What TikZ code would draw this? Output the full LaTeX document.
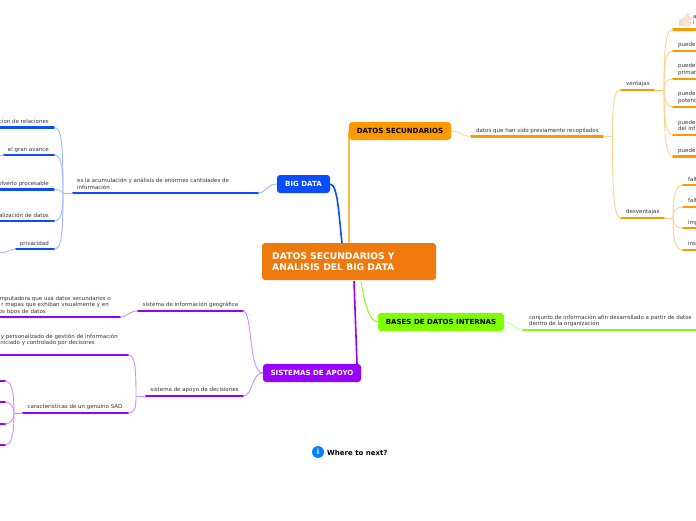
\documentclass[tikz,border=0pt]{standalone}
\usepackage{fontspec}
\setmainfont{DejaVu Sans}
\definecolor{cOr}{HTML}{EE7A0E}
\definecolor{cYe}{HTML}{FF9900}
\definecolor{cBl}{HTML}{0A4DFF}
\definecolor{cGr}{HTML}{80FF00}
\definecolor{cPu}{HTML}{9900FF}
\definecolor{tx}{HTML}{333333}
\tikzset{
  mbox/.style={rounded corners=3pt,font=\bfseries\fontsize{7.05}{8}\selectfont,inner sep=0pt,anchor=center},
  lab/.style={font=\fontsize{5.5}{6.7}\selectfont,text=tx,inner sep=0pt,align=left,yshift=-.5pt},
  topicbar/.style={line width=2.4pt,line cap=round},
  conn/.style={line width=.9pt},
  trunk/.style={line width=1.6pt}
}
\newcommand{\tbar}[5]{\coordinate (#1l) at (#2,#4);\coordinate (#1r) at (#3,#4);\draw[topicbar,#5] (#1l) -- (#1r);}
\newcommand{\cn}[5]{\draw[conn,#5] (#1) .. controls +#3 and +#4 .. (#2);}
\begin{document}
\begin{tikzpicture}[x=1pt,y=-1pt]
\useasboundingbox (0,0) rectangle (696,520);
\clip (0,0) rectangle (696,520);
% anchors on the boxes
\coordinate (cb) at (342,243);\coordinate (cy) at (349,243);\coordinate (cg) at (361,281);\coordinate (cp) at (354,281);
\coordinate (bde) at (330,184);\coordinate (bdw) at (277,184);
\coordinate (dsw) at (349,131);\coordinate (dse) at (451,131);
\coordinate (biw) at (378,322);\coordinate (bie) at (504,322);
\coordinate (sae) at (357,364);\coordinate (saw) at (263,373);
\draw[trunk,cBl] (bde) .. controls +(8,0) and +(-3,-25) .. (cb);
\draw[trunk,cYe!70] (dsw) -- (cy);
\draw[conn,cGr] (biw) .. controls +(-9,0) and +(3,20) .. (cg);
\draw[trunk,cPu] (sae) -- (cp);
% boxes
\node[rounded corners=3pt,fill=cOr,minimum width=174pt,minimum height=37pt,inner sep=0pt] (central) at (349,261.5) {};
\node[anchor=west,inner sep=0pt,text=white,font=\bfseries\fontsize{9.2}{11}\selectfont,align=left] (centralt) at (272,262) {DATOS SECUNDARIOS Y\\ANALISIS DEL BIG DATA};
\node[mbox,fill=cBl,text=white,minimum width=53pt,minimum height=18pt] (bd) at (303.5,184) {BIG DATA};
\node[mbox,fill=cYe,text=black,minimum width=102pt,minimum height=18pt] (ds) at (400,131) {DATOS SECUNDARIOS};
\node[mbox,fill=cGr,text=black,minimum width=126pt,minimum height=18pt] (bi) at (441,322) {BASES DE DATOS INTERNAS};
\node[mbox,fill=cPu,text=white,minimum width=98pt,minimum height=18pt] (sa) at (312,373) {SISTEMAS DE APOYO};
% BIG DATA branch
\tbar{b0}{73}{258}{193}{cBl}
\cn{bdw}{b0r}{(-10,0)}{(8,0)}{cBl!40}
\coordinate (bj) at (63,193);
\draw[conn,cBl!40] (b0l) -- (bj);
\tbar{b1}{-5}{54}{127.5}{cBl}
\tbar{b2}{4}{54}{155}{cBl}
\tbar{b3}{-5}{54}{189.5}{cBl}
\tbar{b4}{-5}{54}{221}{cBl}
\tbar{b5}{16}{54}{249}{cBl}
\cn{bj}{b1r}{(0,-55)}{(7,0)}{cBl!40}
\cn{bj}{b2r}{(0,-28)}{(7,0)}{cBl!40}
\cn{bj}{b3r}{(-3,-3)}{(4,0)}{cBl!40}
\cn{bj}{b4r}{(0,20)}{(7,0)}{cBl!40}
\cn{bj}{b5r}{(0,45)}{(7,0)}{cBl!40}
\coordinate (b2s) at (0,155);\coordinate (b5s) at (0,253);
\draw[conn,cBl!40] (b2s) -- (b2l);
\cn{b5l}{b5s}{(-5,0)}{(4,0)}{cBl!40}
\node[lab,anchor=west] (t0) at (77,183) {es la acumulación y análisis de enormes cantidades de\\información};
\node[lab,anchor=east] (t1) at (49,121) {cion de relaciones};
\node[lab,anchor=east] (t2) at (49,149) {el gran avance};
\node[lab,anchor=east] (t3) at (49,183) {olverlo procesable};
\node[lab,anchor=east] (t4) at (49,215) {alización de datos};
\node[lab,anchor=east] (t5) at (49,243) {privacidad};
% SISTEMAS branch
\tbar{p1}{138}{243}{311}{cPu}
\tbar{p2}{146}{243}{396}{cPu}
\tbar{p3}{-5}{120}{317}{cPu}
\tbar{p4}{-5}{128}{355}{cPu}
\tbar{p5}{23}{128}{413}{cPu}
\cn{saw}{p1r}{(-15,0)}{(10,0)}{cPu!45}
\cn{saw}{p2r}{(-12,0)}{(10,0)}{cPu!45}
\cn{p1l}{p3r}{(-10,0)}{(8,0)}{cPu!45}
\coordinate (pj) at (136,396);
\draw[conn,cPu!45] (p2l) -- (pj);
\cn{pj}{p4r}{(0,-30)}{(7,0)}{cPu!45}
\cn{pj}{p5r}{(0,12)}{(7,0)}{cPu!45}
\coordinate (qj) at (14,413);
\draw[conn,cPu!45] (p5l) -- (qj);
\tbar{q1}{-5}{5}{381}{cPu}
\tbar{q2}{-5}{5}{402}{cPu}
\tbar{q3}{-5}{5}{424}{cPu}
\tbar{q4}{-5}{5}{445}{cPu}
\cn{qj}{q1r}{(0,-24)}{(6,0)}{cPu!45}
\cn{qj}{q2r}{(0,-7)}{(5,0)}{cPu!45}
\cn{qj}{q3r}{(0,7)}{(5,0)}{cPu!45}
\cn{qj}{q4r}{(0,24)}{(6,0)}{cPu!45}
\node[lab,anchor=center] (t6) at (190.5,304) {sistema de información geográfica};
\node[lab,anchor=center] (t7) at (194.5,389) {sistema de apoyo de decisiones};
\node[lab,anchor=center] (t8) at (75,406) {características de un genuino SAD};
\node[lab,anchor=east] (t9) at (111,298) {mputadora que usa datos secundarios o};
\node[lab,anchor=east] (t10) at (109,304.5) {r mapas que exhiban visualmente y en};
\node[lab,anchor=east] (t11) at (46,311) {os tipos de datos};
\node[lab,anchor=east] (t12) at (118,336) {y personalizado de gestión de información};
\node[lab,anchor=east] (t13) at (95,342) {niciado y controlado por decisores};
% DATOS SECUNDARIOS branch
\tbar{y0}{471}{603}{136.5}{cYe}
\cn{dse}{y0l}{(10,0)}{(-9,0)}{cYe!40}
\coordinate (yj) at (612.5,136.5);
\draw[conn,cYe!40] (y0r) -- (yj);
\tbar{y1}{621}{654}{90}{cYe}
\tbar{y2}{621}{664}{218}{cYe}
\cn{yj}{y1l}{(0,-35)}{(-7,0)}{cYe!45}
\cn{yj}{y2l}{(0,60)}{(-7,0)}{cYe!45}
\coordinate (vj) at (664,90);\coordinate (dj) at (673,218);
\draw[conn,cYe!70] (y1r) -- (vj);
\draw[conn,cYe!45] (y2r) -- (dj);
\tbar{v1}{673}{700}{29.5}{cYe}
\tbar{v2}{673}{700}{51}{cYe}
\tbar{v3}{673}{700}{79}{cYe}
\tbar{v4}{673}{700}{107}{cYe}
\tbar{v5}{673}{700}{135}{cYe}
\tbar{v6}{673}{700}{156.5}{cYe}
\cn{vj}{v1l}{(0,-45)}{(-7,0)}{cYe!45}
\cn{vj}{v2l}{(0,-28)}{(-7,0)}{cYe!45}
\cn{vj}{v3l}{(0,-8)}{(-6,0)}{cYe!45}
\cn{vj}{v4l}{(0,10)}{(-6,0)}{cYe!45}
\cn{vj}{v5l}{(0,30)}{(-7,0)}{cYe!45}
\cn{vj}{v6l}{(0,48)}{(-7,0)}{cYe!45}
\tbar{d1}{683}{700}{185}{cYe}
\tbar{d2}{683}{700}{207}{cYe}
\tbar{d3}{683}{700}{228}{cYe}
\tbar{d4}{683}{700}{250}{cYe}
\cn{dj}{d1l}{(0,-24)}{(-7,0)}{cYe!45}
\cn{dj}{d2l}{(0,-8)}{(-6,0)}{cYe!45}
\cn{dj}{d3l}{(0,8)}{(-6,0)}{cYe!45}
\cn{dj}{d4l}{(0,24)}{(-7,0)}{cYe!45}
\node[lab,anchor=west] (t14) at (476,130) {datos que han sido previamente recopilados};
\node[lab,anchor=west] (t15) at (626,83) {ventajas};
\node[lab,anchor=west] (t16) at (626,211) {desventajas};
\node[lab,anchor=west] (u1) at (693,19.5) {a\\i};
\node[lab,anchor=west] (u2) at (678,44) {puede};
\node[lab,anchor=west] (u3) at (678,69) {puede\\primar};
\node[lab,anchor=west] (u4) at (678,97) {puede\\potenc};
\node[lab,anchor=west] (u5) at (678,125) {puede\\del inf};
\node[lab,anchor=west] (u6) at (678,150) {puede};
\node[lab,anchor=west] (u7) at (688,179) {falt};
\node[lab,anchor=west] (u8) at (688,200) {falt};
\node[lab,anchor=west] (u9) at (688,222) {imp};
\node[lab,anchor=west] (u10) at (688,243) {ins};
% thumbs-up icon
\fill[black!12] (679,19) rectangle (683,26);
\fill[red!25!orange!18!white,draw=black!15,line width=.3pt] (682,19) -- (686,16) -- (687,13) -- (689,13) -- (689,17) -- (691,18) -- (691,24) -- (689,26) -- (683,26) -- cycle;
% BASES branch
\tbar{g0}{523}{700}{330}{cGr}
\cn{bie}{g0l}{(10,0)}{(-9,0)}{cGr!45}
\node[lab,anchor=west] (t17) at (529,320.5) {conjunto de información afín desarrollado a partir de datos\\dentro de la organización};
% footer
\node[circle,fill=cBl!70!cyan,text=white,minimum size=12pt,inner sep=0pt,font=\bfseries\fontsize{7}{7}\selectfont] (info) at (318,452) {i};
\node[anchor=west,inner sep=0pt,font=\bfseries\fontsize{7}{8}\selectfont,text=black] (wn) at (327,452.5) {Where to next?};
\end{tikzpicture}
\end{document}
